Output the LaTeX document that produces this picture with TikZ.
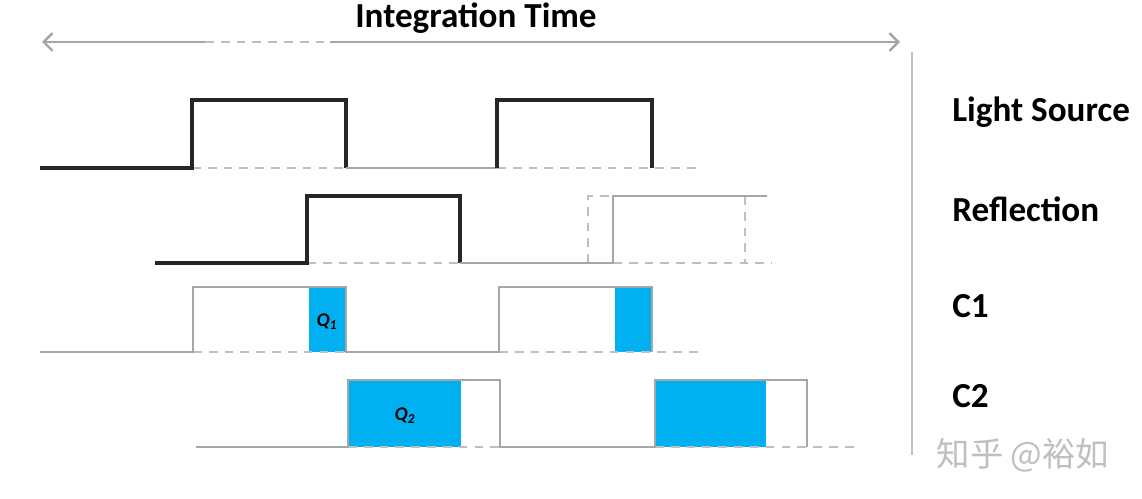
\documentclass[tikz,border=0pt]{standalone}
\usepackage{fontspec}
\setmainfont{Carlito}
\newfontfamily\cjk{Noto Sans CJK SC}
\usetikzlibrary{arrows.meta}

\definecolor{waveblack}{HTML}{262626}
\definecolor{wavegray}{HTML}{A6A6A6}
\definecolor{dashgray}{HTML}{BFBFBF}
\definecolor{qblue}{HTML}{00B0F0}

\begin{document}
\begin{tikzpicture}[x=0.02cm,y=-0.02cm,
    dark/.style={draw=waveblack,line width=1.8pt},
    light/.style={draw=wavegray,line width=1.5pt},
    base/.style={draw=dashgray,line width=1.4pt,dash pattern=on 5pt off 4pt},
    charge/.style={fill=qblue,draw=none},
    lbl/.style={anchor=base west,inner sep=0pt,font=\fontsize{20}{24}\selectfont\bfseries}]

        \useasboundingbox (0,0) rectangle (1142,499);

        % integration time arrow
        \node[anchor=base,inner sep=0pt,font=\fontsize{20}{24}\selectfont\bfseries] (title) at (476,28) {Integration Time};
        \coordinate (tl) at (42,42);
        \coordinate (tm1) at (205,42);
        \coordinate (tm2) at (330,42);
        \coordinate (tr) at (900,42);
        \draw[wavegray,line width=1.4pt,{Straight Barb[length=5pt,width=10pt]}-] (tl) -- (tm1);
        \draw[base] (tm1) -- (tm2);
        \draw[wavegray,line width=1.4pt,-{Straight Barb[length=5pt,width=10pt]}] (tm2) -- (tr);

        \coordinate (st) at (912,52);
        \coordinate (sb) at (912,455);
        \draw[dashgray,line width=1.2pt] (st) -- (sb);

        % blue charge areas
        \fill[charge] (309,287) rectangle (346,352);
        \fill[charge] (615,287) rectangle (652,352);
        \fill[charge] (348,380) rectangle (461,447);
        \fill[charge] (655,380) rectangle (766,447);

        % dashed base lines
        \draw[base] (192,168) -- (346,168);
        \draw[base] (497,168) -- (700,168);
        \draw[base] (307,263) -- (460,263);
        \draw[base] (613,263) -- (772,263);
        \draw[base] (193,352) -- (346,352);
        \draw[base] (499,352) -- (700,352);
        \draw[base] (348,447) -- (500,447);
        \draw[base] (655,447) -- (857,447);
        \draw[base] (588,263) -- (588,196) -- (613,196);
        \draw[base] (745,196) -- (745,263);

        % light source
        \draw[dark] (40,168) -- (192,168) -- (192,100) -- (346,100) -- (346,168);
        \draw[light] (346,168) -- (497,168);
        \draw[dark] (497,168) -- (497,100) -- (652,100) -- (652,168);

        % reflection
        \draw[dark] (155,263) -- (307,263) -- (307,196) -- (460,196) -- (460,263);
        \draw[light] (460,263) -- (613,263) -- (613,196) -- (767,196);

        % C1
        \draw[light] (40,352) -- (193,352) -- (193,287) -- (346,287) -- (346,352)
          -- (499,352) -- (499,287) -- (652,287) -- (652,352);

        % C2
        \draw[light] (196,447) -- (348,447) -- (348,380) -- (500,380) -- (500,447)
          -- (655,447) -- (655,380) -- (807,380) -- (807,447);

        \begin{scope}[every node/.style={font=\fontsize{11}{13}\selectfont\bfseries\itshape}]
          \node (q1) at (327,322) {Q\textsubscript{1}};
          \node (q2) at (405,416) {Q\textsubscript{2}};
        \end{scope}

        \begin{scope}[every node/.style={lbl}]
          \node (lsrc) at (952,122) {Light Source};
          \node (refl) at (952,222) {Reflection};
          \node (c1)   at (952,318) {C1};
          \node (c2)   at (952,408) {C2};
        \end{scope}

        \node[text=black!25,font=\cjk\fontsize{19}{22}\selectfont] (mark) at (1023,455) {知乎 @裕如};

      \end{tikzpicture}
\end{document}
